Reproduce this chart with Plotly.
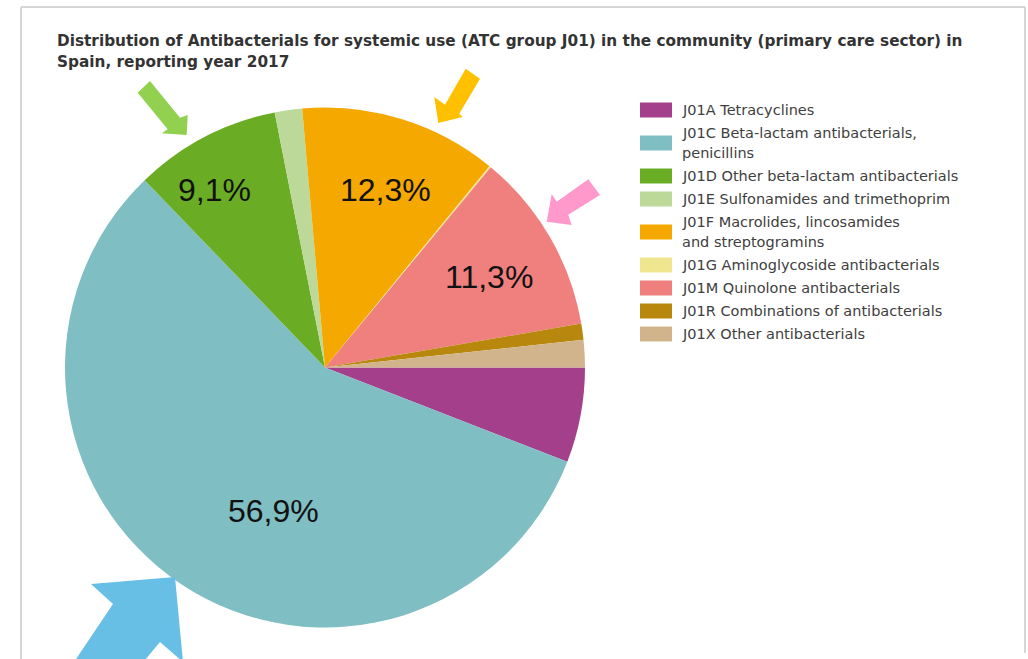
import plotly.graph_objects as go

# --- data -------------------------------------------------------------------
CODES = ["J01A", "J01C", "J01D", "J01E", "J01F", "J01G", "J01M", "J01R", "J01X"]
LEGEND_TEXT = [
    "J01A Tetracyclines",
    "J01C Beta-lactam antibacterials,\npenicillins",
    "J01D Other beta-lactam antibacterials",
    "J01E Sulfonamides and trimethoprim",
    "J01F Macrolides, lincosamides\nand streptogramins",
    "J01G Aminoglycoside antibacterials",
    "J01M Quinolone antibacterials",
    "J01R Combinations of antibacterials",
    "J01X Other antibacterials",
]
SHARE_PCT = [5.9, 56.9, 9.1, 1.7, 12.3, 0.1, 11.3, 1.0, 1.7]
SLICE_COLORS = ["#A43F8C", "#7FBEC2", "#6AAD24", "#BDD99A", "#F5A800",
                "#EFE68F", "#EF807E", "#B8880E", "#D2B48C"]
LABELLED_CODES = ["J01C", "J01D", "J01F", "J01M"]

TITLE_LINES = [
    "Distribution of Antibacterials for systemic use (ATC group J01) in the community (primary care sector) in",
    "Spain, reporting year 2017",
]

W, H = 1028, 659


def px(x, y):
    """Pixel position -> paper coordinates."""
    return x / W, 1 - y / H


def poly_path(points):
    parts = []
    for i, (x, y) in enumerate(points):
        u, v = px(x, y)
        parts.append(("M" if i == 0 else "L") + f"{u:.5f},{v:.5f}")
    return " ".join(parts) + " Z"


# --- pie ----------------------------------------------------------------------
cx, cy, r = 325, 367.5, 260
fig = go.Figure(go.Pie(
    labels=CODES,
    values=SHARE_PCT,
    marker=dict(colors=SLICE_COLORS, line=dict(width=0)),
    sort=False,
    direction="clockwise",
    rotation=90,
    textinfo="none",
    hoverinfo="label+percent",
    showlegend=False,
    domain=dict(x=[(cx - r) / W, (cx + r) / W], y=[1 - (cy + r) / H, 1 - (cy - r) / H]),
))

annotations = []
shapes = []

# title
for i, line in enumerate(TITLE_LINES):
    u, v = px(55, 41 + 20.7 * i)
    annotations.append(dict(
        x=u, y=v, xref="paper", yref="paper", xanchor="left", yanchor="middle",
        text=f"<b>{line}</b>", showarrow=False,
        font=dict(family="DejaVu Sans", size=15.3, color="#333333"),
    ))

# value labels on the large slices
label_pos = {"J01C": (273, 511), "J01D": (214, 190), "J01F": (385, 190), "J01M": (489, 277)}
for code in LABELLED_CODES:
    val = SHARE_PCT[CODES.index(code)]
    u, v = px(*label_pos[code])
    annotations.append(dict(
        x=u, y=v, xref="paper", yref="paper", xanchor="center", yanchor="middle",
        text=f"{val:.1f}".replace(".", ",") + "%", showarrow=False,
        font=dict(family="Liberation Sans", size=32, color="#111111"),
    ))

# legend (swatch + wrapped text)
y = 110
for text, color in zip(LEGEND_TEXT, SLICE_COLORS):
    lines = text.split("\n")
    sw_c = y + 10 * (len(lines) - 1)
    x0, y0 = px(640, sw_c - 7.5)
    x1, y1 = px(672, sw_c + 7.5)
    shapes.append(dict(type="rect", xref="paper", yref="paper", x0=x0, x1=x1, y0=y0, y1=y1,
                       fillcolor=color, line=dict(width=0)))
    for k, line in enumerate(lines):
        u, v = px(680, y + 20 * k)
        annotations.append(dict(
            x=u, y=v, xref="paper", yref="paper", xanchor="left", yanchor="middle",
            text=line, showarrow=False,
            font=dict(family="DejaVu Sans", size=14.5, color="#404040"),
        ))
    y += 20 * (len(lines) - 1) + 23

# highlight arrows
arrows = [
    ("#92D050", [(137.7, 92.7), (150, 81), (180, 117.7), (187.7, 115), (186.7, 135),
                 (161.7, 133.3), (167.7, 129.3)]),
    ("#FFC000", [(465.7, 68.7), (480, 78.7), (459.3, 113.7), (462.7, 117), (438.3, 123),
                 (434.3, 97), (445, 104.7)]),
    ("#FF99CC", [(588.3, 179.3), (600, 195), (568.3, 214.7), (571.7, 225), (546.7, 221.7),
                 (551.7, 194), (556.7, 201.7)]),
    ("#68BFE5", [(175, 577), (183, 662), (160, 642), (120, 690), (70, 668), (113, 604),
                 (91, 584)]),
]
for color, pts in arrows:
    shapes.append(dict(type="path", xref="paper", yref="paper", path=poly_path(pts),
                       fillcolor=color, line=dict(width=0), layer="above"))

# frame
frame_col = "#D6D6D6"
for (xa, ya), (xb, yb) in [((21, 7), (1025, 7)), ((21, 7), (21, 662)), ((1025, 7), (1025, 653))]:
    u0, v0 = px(xa, ya)
    u1, v1 = px(xb, yb)
    shapes.append(dict(type="line", xref="paper", yref="paper", x0=u0, y0=v0, x1=u1, y1=v1,
                       line=dict(color=frame_col, width=2)))

fig.update_layout(
    width=W, height=H,
    margin=dict(l=0, r=0, t=0, b=0),
    paper_bgcolor="white", plot_bgcolor="white",
    annotations=annotations, shapes=shapes,
)

fig.write_html("out.html")
